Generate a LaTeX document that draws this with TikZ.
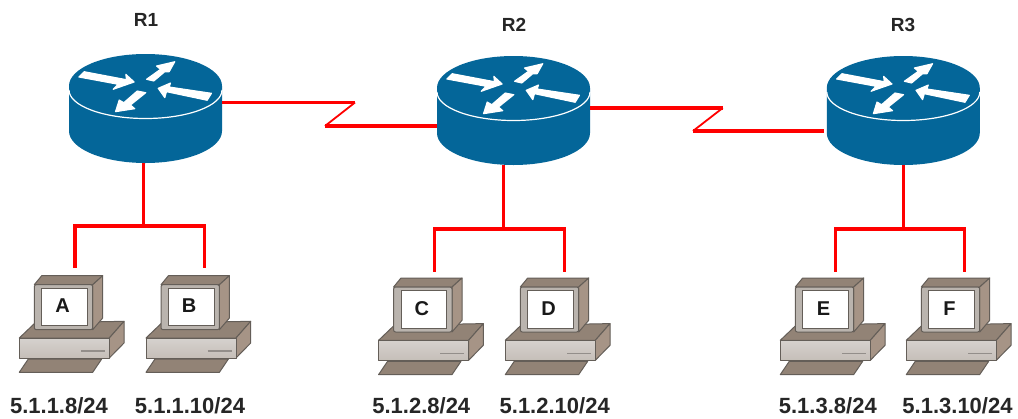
\documentclass[tikz,border=0pt]{standalone}
\usepackage{fontspec}
\setmainfont{Liberation Sans}
\definecolor{routerblue}{RGB}{4,102,153}
\definecolor{pctop}{RGB}{146,131,118}
\definecolor{pcside}{RGB}{166,148,134}
\definecolor{pcbezel}{RGB}{186,180,174}
\definecolor{pcfront}{RGB}{214,210,206}
\definecolor{pcedge}{RGB}{100,94,88}
\tikzset{
  wire/.style={draw=red, line width=3.2pt},
  zigwire/.style={draw=red, line width=1.8pt},
  arrowmark/.style={fill=white, draw=white, line width=1.1pt, line join=round},
  routerlabel/.style={inner sep=0pt, text=black!85, font=\bfseries\fontsize{19}{21}\selectfont},
  pclabel/.style={inner sep=0pt, text=black!90, font=\bfseries\fontsize{20}{22}\selectfont},
  addrlabel/.style={inner sep=0pt, text=black!85, font=\bfseries\fontsize{22}{24}\selectfont},
  pcpart/.style={draw=pcedge, line width=1pt, line join=round},
  router/.pic={
    \fill[routerblue] (-76.5,0) arc[start angle=180, end angle=360, x radius=76.5, y radius=32]
      -- (76.5,45) arc[start angle=0, end angle=180, x radius=76.5, y radius=32] -- cycle;
    \draw[white, line width=1.2pt] (-76.5,4) arc[start angle=180, end angle=0, x radius=76.5, y radius=28.5];
    \path[arrowmark] (-66.7,-9) -- (-61.3,-14.3) -- (-19,-6.3) -- (-19.7,-11.7) -- (-11.3,-4) -- (-32.3,3.3) -- (-27.3,-1.7) -- cycle;
    \path[arrowmark] (1,-6.7) -- (8.3,-5) -- (19.3,-14.3) -- (23.7,-14.3) -- (29.3,-24.3) -- (11,-20) -- (15,-16.7) -- cycle;
    \path[arrowmark] (12.7,2.3) -- (25,-3) -- (23.7,1) -- (66,7.3) -- (61.7,14.3) -- (21,5.7) -- (19.3,11.7) -- cycle;
    \path[arrowmark] (-30,25.7) -- (-10.7,22.7) -- (-15,19) -- (0.3,6.7) -- (-8.3,5) -- (-21.7,16.7) -- (-26.3,14) -- cycle;
    \coordinate (-e) at (76.5,0);
    \coordinate (-w) at (-76.5,0);
    \coordinate (-s) at (0,77);
  },
  pc/.pic={
    % base and keyboard
    \draw[pcpart, fill=pctop] (-55.7,70) -- (-40,55) -- (49,53.3) -- (34.3,70) -- cycle;
    \draw[pcpart, fill=pcside] (34.3,70) -- (49,53.3) -- (49,75) -- (34.3,90) -- cycle;
    \draw[pcpart, top color=pcfront, bottom color=pcfront!75!pctop] (-55.7,70) rectangle (34.3,90);
    \draw[pcedge!70, line width=1.2pt] (6,83) -- (30,83);
    \draw[pcpart, fill=pctop] (-46.7,91) -- (26.7,91) -- (17.7,104.3) -- (-55.7,104.3) -- cycle;
    % monitor
    \draw[pcpart, fill=pctop] (-40.7,16.7) -- (-33.3,7.7) -- (27.7,7.7) -- (17.7,16.7) -- cycle;
    \draw[pcpart, fill=pcside] (17.7,16.7) -- (27.7,7.7) -- (27.7,50) -- (17.7,61.7) -- cycle;
    \draw[pcpart, fill=pcbezel, rounded corners=2pt] (-40.7,16.7) rectangle (17.7,61.7);
    \draw[draw=pcedge, fill=white, line width=0.8pt] (-33.3,20) rectangle (12.3,57.7);
    \node[pclabel] (-lbl) at (-12.5,38) {#1};
  },
}
\begin{document}
\begin{tikzpicture}[x=1pt, y=-1pt]
  \useasboundingbox (0,0) rectangle (1018,418);
  \fill[white] (0,0) rectangle (1018,418);

  \pic (R1) at (145.5,86) {router};
  \pic (R2) at (513.5,88) {router};
  \pic (R3) at (903.3,88) {router};
  \node[routerlabel] (lblR1) at (146,20) {R1};
  \node[routerlabel] (lblR2) at (514,25) {R2};
  \node[routerlabel] (lblR3) at (903,25) {R3};

  \pic (A) at (75,268) {pc=A};
  \pic (B) at (201.7,268) {pc=B};
  \pic (C) at (434.3,270.3) {pc=C};
  \pic (D) at (561,270.3) {pc=D};
  \pic (E) at (836,270.3) {pc=E};
  \pic (F) at (962,270.3) {pc=F};

  % serial links
  \coordinate (zig1a) at (355,102.5);
  \coordinate (zig1b) at (325,126);
  \draw[wire] (R1-e |- zig1a) -- (zig1a);
  \draw[zigwire] (zig1a) -- (zig1b);
  \draw[wire] (zig1b) -- (R2-w |- zig1b);
  \coordinate (zig2a) at (722.7,108);
  \coordinate (zig2b) at (693,131);
  \coordinate (zig2c) at (824,131);
  \draw[wire] (R2-e |- zig2a) -- (zig2a);
  \draw[zigwire] (zig2a) -- (zig2b);
  \draw[wire] (zig2b) -- (zig2c);

  % lan wiring
  \coordinate (hub1) at (143.5,226);
  \coordinate (hub2) at (503.3,229);
  \coordinate (hub3) at (903.3,229);
  \coordinate (portA) at (75,268);
  \coordinate (portB) at (204.5,268);
  \coordinate (portC) at (434.3,271.7);
  \coordinate (portD) at (564.3,271.7);
  \coordinate (portE) at (835.3,271.7);
  \coordinate (portF) at (964.7,271.7);
  \draw[wire] (hub1 |- R1-s) -- (hub1);
  \draw[wire] (hub2 |- R2-s) -- (hub2);
  \draw[wire] (hub3 |- R3-s) -- (hub3);
  \draw[wire] (portA) |- (hub1) -| (portB);
  \draw[wire] (portC) |- (hub2) -| (portD);
  \draw[wire] (portE) |- (hub3) -| (portF);

  \node[addrlabel] (addrA) at (59,406) {5.1.1.8/24};
  \node[addrlabel] (addrB) at (190,406) {5.1.1.10/24};
  \node[addrlabel] (addrC) at (421.3,406) {5.1.2.8/24};
  \node[addrlabel] (addrD) at (554.7,406) {5.1.2.10/24};
  \node[addrlabel] (addrE) at (827.8,406) {5.1.3.8/24};
  \node[addrlabel] (addrF) at (957.5,406) {5.1.3.10/24};
\end{tikzpicture}
\end{document}
